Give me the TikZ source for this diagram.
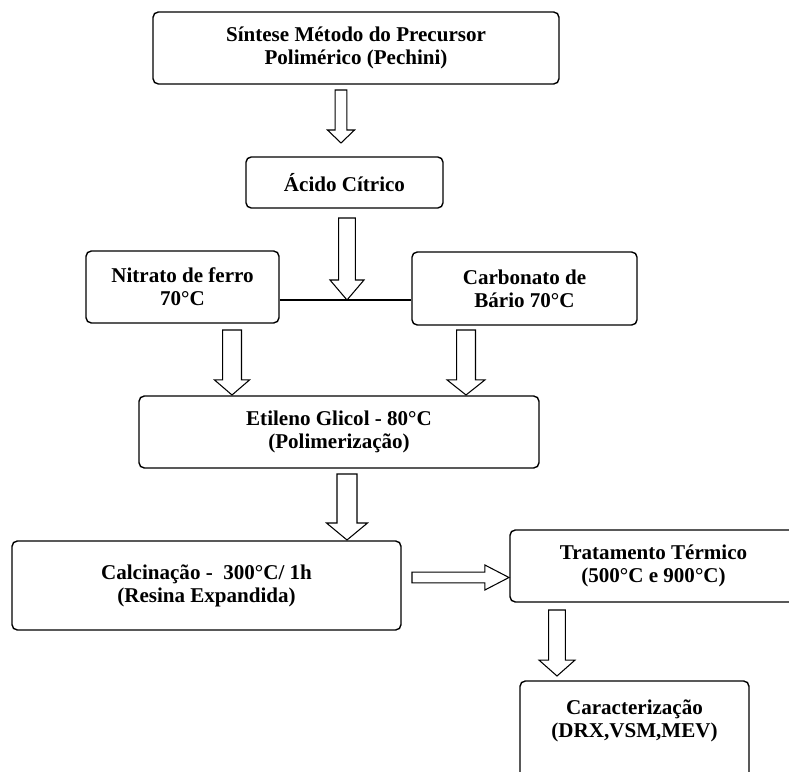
\documentclass[tikz,border=0pt]{standalone}
\usepackage{fontspec}
\setmainfont{Liberation Serif}
\usetikzlibrary{calc}

\tikzset{
	stage/.style={draw, line width=0.8pt, rounded corners=3pt, align=center,
		font=\bfseries\fontsize{12}{13.2}\selectfont, inner sep=2pt},
	caption/.style={align=center, font=\bfseries\fontsize{12}{13.2}\selectfont, inner sep=0pt},
	hollow/.style args={#1/#2/#3}{line width=0.6pt, fill=white,
		to path={($(\tikztostart)!#1!90:(\tikztotarget)$)
			-- ($(\tikztotarget)!#3!(\tikztostart)!#1!-90:(\tikztostart)$)
			-- ($(\tikztotarget)!#3!(\tikztostart)!#2!-90:(\tikztostart)$)
			-- (\tikztotarget)
			-- ($(\tikztotarget)!#3!(\tikztostart)!#2!90:(\tikztostart)$)
			-- ($(\tikztotarget)!#3!(\tikztostart)!#1!90:(\tikztostart)$)
			-- ($(\tikztostart)!#1!-90:(\tikztotarget)$) -- cycle}}
}

\begin{document}
\begin{tikzpicture}[x=0.57pt, y=-0.57pt]
	\useasboundingbox (0,0) rectangle (789,772);
	\clip (0,0) rectangle (789,772);

	% steps
	\node [stage, minimum width=231.4pt, minimum height=41pt] (sintese) at (356,48)
		{Síntese Método do Precursor\\Polimérico (Pechini)};
	\node [stage, minimum width=112.3pt, minimum height=29.1pt] (acido) at (344.5,182.5)
		{Ácido Cítrico};
	\node [stage, minimum width=110pt, minimum height=41pt] (nitrato) at (182.5,287)
		{Nitrato de ferro\\70°C};
	\node [stage, minimum width=128.3pt, minimum height=41.6pt] (carbonato) at (524.5,288.5)
		{Carbonato de\\Bário 70°C};
	\node [stage, minimum width=228pt, minimum height=41pt] (etileno) at (339,432)
		{Etileno Glicol - 80°C\\(Polimerização)};
	\node [stage, minimum width=221.7pt, minimum height=50.7pt] (calcinacao) at (206.5,585.5)
		{Calcinação -\ \ 300°C/ 1h\\(Resina Expandida)};
	\node [stage, minimum width=163.6pt, minimum height=41pt] (tratamento) at (653.5,566)
		{Tratamento Térmico\\(500°C e 900°C)};
	\node [stage, minimum width=130.5pt, minimum height=67.8pt] (carac) at (634.5,740.5) {};
	\node [caption] (caractxt) at (634.5,721)
		{Caracterização\\(DRX,VSM,MEV)};

	% arrow ends
	\coordinate (a1s) at (341,90);   \coordinate (a1e) at (341,143);
	\coordinate (a2s) at (347,218);  \coordinate (join) at (347,300);
	\coordinate (a3s) at (232,330);  \coordinate (a3e) at (232,395);
	\coordinate (a4s) at (466,330);  \coordinate (a4e) at (466,395);
	\coordinate (a5s) at (347,474);  \coordinate (a5e) at (347,540);
	\coordinate (a6s) at (412,577.5); \coordinate (a6e) at (509,577.5);
	\coordinate (a7s) at (557,610);  \coordinate (a7e) at (557,676);

	% connectors
	\draw [line width=0.6pt] (nitrato.east |- join) -- (carbonato.west |- join);
	\draw [hollow=3.4pt/7.7pt/7.4pt] (a1s) to (a1e);
	\draw [hollow=4.8pt/9.7pt/11.4pt] (a2s) to (join);
	\draw [hollow=5.4pt/10pt/8.6pt] (a3s) to (a3e);
	\draw [hollow=5.4pt/10.8pt/8.6pt] (a4s) to (a4e);
	\draw [hollow=5.7pt/11.7pt/9.7pt] (a5s) to (a5e);
	\draw [hollow=3.1pt/7.1pt/13.7pt] (a6s) to (a6e);
	\draw [hollow=4.8pt/10.3pt/9.1pt] (a7s) to (a7e);
\end{tikzpicture}
\end{document}
